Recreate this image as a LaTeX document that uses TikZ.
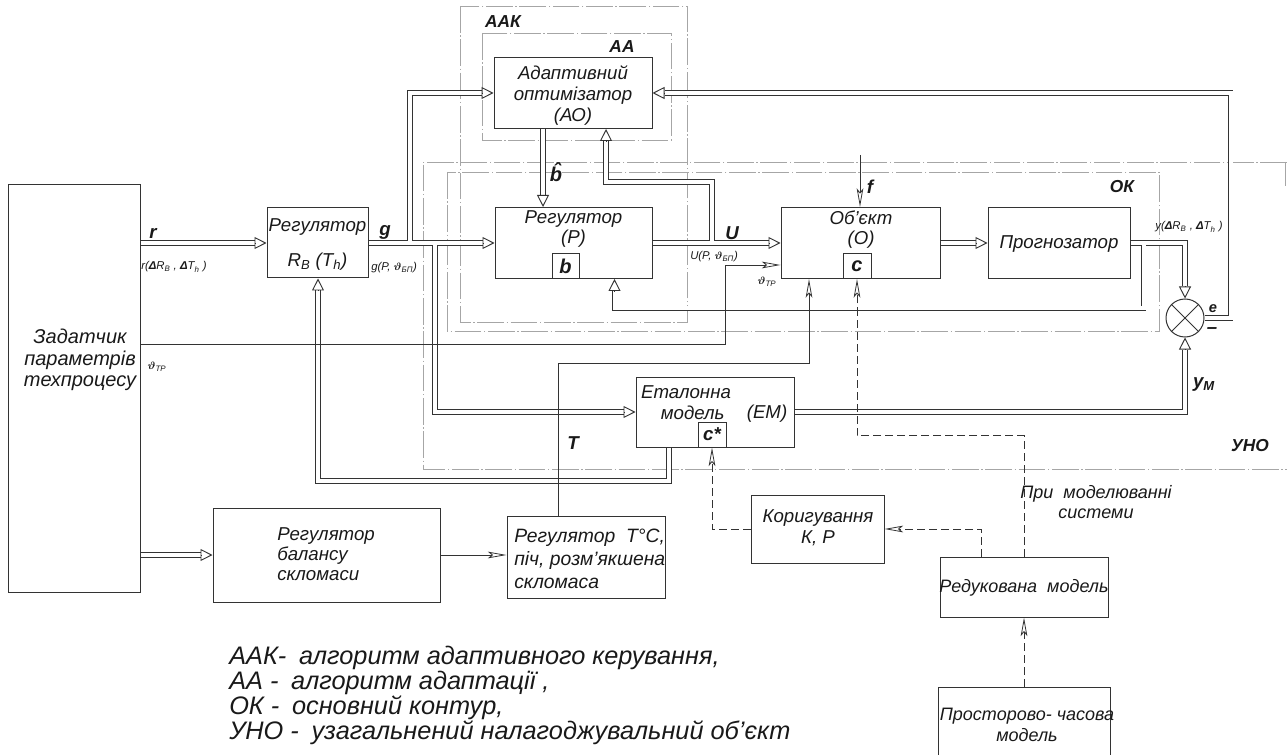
\documentclass[tikz,border=0pt]{standalone}
\usepackage{fontspec}
\setmainfont{Liberation Sans}
\usepackage{bm}
\usetikzlibrary{arrows.meta}
\begin{document}
\begin{tikzpicture}[x=0.75pt,y=-0.75pt,
  every node/.style={inner sep=0pt, text=black!90},
  bx/.style 2 args={draw=black!80, line width=0.75pt, minimum width=#1*0.75pt, minimum height=#2*0.75pt},
  tx/.style={font=\fontsize{14}{16}\selectfont\itshape, align=center},
  lbl/.style={font=\fontsize{14}{16}\selectfont\bfseries\itshape},
  ttl/.style={font=\fontsize{13}{15}\selectfont\bfseries\itshape},
  sml/.style={font=\fontsize{8.5}{10}\selectfont\itshape},
  leg/.style={font=\fontsize{19}{21}\selectfont\itshape, anchor=base west},
  frm/.style={draw=black!35, line width=0.6pt, dash pattern=on 20pt off 2pt on 1pt off 2pt},
  dbl/.style={draw=black!80, line width=0.7pt, double=white, double distance=3pt, line join=miter},
  dtip/.style={draw=black!80, line width=0.7pt, -{Triangle[open, length=9pt, width=9pt]}},
  thn/.style={draw=black!80, line width=0.6pt, -{Stealth[open, length=14pt, width=5pt, inset=3pt]}},
  dsh/.style={dash pattern=on 6pt off 3pt}
]
\useasboundingbox (0,0) rectangle (1287,755);

% frames
\draw[frm] (460,6) rectangle (687,322);
\draw[frm] (482,33) rectangle (671,140);
\draw[frm] (447,172) rectangle (1159,331);
\draw[frm] (1287,162) -- (423,162) -- (423,469) -- (1287,469);
\draw[frm] (1285,162) -- (1285,186);

% boxes
\node[bx={132}{407}] (zad) at (74,388.5) {};
\node[tx, font=\fontsize{15}{16}\selectfont\itshape] (zadt) at (80,360) {Задатчик\\параметрів\\техпроцесу};
\node[bx={101}{70}] (rb) at (317.5,243) {};
\node[tx] (rbt) at (317.5,244.5) {Регулятор\\[10pt]R\textsubscript{B} (T\textsubscript{h})};
\node[bx={158}{71}] (ao) at (573,93) {};
\node[tx, font=\fontsize{14}{15.75}\selectfont\itshape] (aot) at (573,96) {Адаптивний\\оптимізатор\\(АО)};
\node[bx={157}{71}] (p) at (573.5,243) {};
\node[tx, font=\fontsize{14}{15}\selectfont\itshape] (pt) at (573.5,229.5) {Регулятор\\(Р)};
\node[bx={27}{25}, font=\fontsize{15}{16}\selectfont\bfseries\itshape] (pb) at (565.5,266) {b};
\node[bx={159}{71}] (obj) at (860.5,243) {};
\node[tx, font=\fontsize{14}{15}\selectfont\itshape] (objt) at (861,230) {Об'єкт\\(О)};
\node[bx={28}{25}, font=\fontsize{15}{16}\selectfont\bfseries\itshape] (oc) at (857,266) {c};
\node[bx={142}{71}] (prog) at (1059,243) {};
\node[tx] (progt) at (1059,244) {Прогнозатор};
\node[circle, draw=black!80, line width=0.75pt, minimum size=38*0.75pt] (sum) at (1185,318) {};
\draw[black!80, line width=0.6pt] (sum.north west) -- (sum.south east) (sum.north east) -- (sum.south west);
\node[bx={158}{70}] (em) at (715,412) {};
\node[tx, font=\fontsize{14}{15.5}\selectfont\itshape] (emt) at (686,403) {Еталонна\\\hspace*{10pt}модель};
\node[tx] (emt2) at (767,414) {(ЕМ)};
\node[bx={28}{25}, font=\fontsize{14}{16}\selectfont\bfseries\itshape] (ec) at (712,434.5) {c*};
\node[bx={227}{94}] (bal) at (326.5,555) {};
\node[tx, align=left, anchor=west, font=\fontsize{14}{15}\selectfont\itshape] (balt) at (277,554) {Регулятор\\балансу\\скломаси};
\node[bx={158}{82}] (regt) at (586,557) {};
\node[tx, align=left, anchor=west, font=\fontsize{14.5}{17.5}\selectfont\itshape] (regtt) at (514,559) {Регулятор \ Т°С,\\піч, розм'якшена\\скломаса};
\node[bx={133}{68}] (kor) at (817.5,529) {};
\node[tx, font=\fontsize{14}{15.5}\selectfont\itshape] (kort) at (818,528) {Коригування\\К, Р};
\node[bx={168}{60}] (red) at (1024,587) {};
\node[tx, font=\fontsize{13.5}{15}\selectfont\itshape] (redt) at (1024,588) {Редукована \ модель};
\node[bx={172}{76}] (pro) at (1024,725) {};
\node[tx, font=\fontsize{13.5}{16}\selectfont\itshape] (prot) at (1027,725) {Просторово- часова\\модель};
\node[tx, font=\fontsize{13.5}{15.5}\selectfont\itshape] (prim) at (1096,502) {При \ моделюванні\\системи};

% double connectors
\draw[dbl] (zad.east |- rb.west) -- ([xshift=-9pt]rb.west);
\draw[dtip] ([xshift=-9pt]rb.west) -- (rb.west);
\draw[dbl] (zad.east |- bal.west) -- ([xshift=-9pt]bal.west);
\draw[dtip] ([xshift=-9pt]bal.west) -- (bal.west);

\coordinate (gj1) at (410,243);
\coordinate (gj2) at (435,243);
\draw[dbl] (rb.east) -- ([xshift=-9pt]p.west)
  (gj1) |- ([xshift=-9pt]ao.west)
  (gj2) |- ([xshift=-9pt]em.west);
\draw[dtip] ([xshift=-9pt]p.west) -- (p.west);
\draw[dtip] ([xshift=-9pt]ao.west) -- (ao.west);
\draw[dtip] ([xshift=-9pt]em.west) -- (em.west);

\coordinate (bA) at (ao.south -| 543,0);
\coordinate (bP) at (p.north -| 543,0);
\draw[dbl] (bA) -- ([yshift=9pt]bP);
\draw[dtip] ([yshift=9pt]bP) -- (bP);

\coordinate (uj) at (712,243);
\coordinate (aU) at (ao.south -| 606,0);
\draw[dbl] (p.east) -- ([xshift=-9pt]obj.west)
  (uj) |- (606,182) -- ([yshift=-9pt]aU);
\draw[dtip] ([xshift=-9pt]obj.west) -- (obj.west);
\draw[dtip] ([yshift=-9pt]aU) -- (aU);

\draw[dbl] (obj.east) -- ([xshift=-9pt]prog.west);
\draw[dtip] ([xshift=-9pt]prog.west) -- (prog.west);

\coordinate (pj) at (1143.5,243);
\coordinate (pF) at (p.south -| 614.5,0);
\draw[dbl] (prog.east) -| ([yshift=9pt]sum.north)
  (pj) |- (614.5,308.5) -- ([yshift=-9pt]pF);
\draw[dtip] ([yshift=9pt]sum.north) -- (sum.north);
\draw[dtip] ([yshift=-9pt]pF) -- (pF);

\draw[dbl] (sum.east) -- (1230.5,318) |- ([xshift=9pt]ao.east);
\draw[dtip] ([xshift=9pt]ao.east) -- (ao.east);

\draw[dbl] (em.east) -| ([yshift=-9pt]sum.south);
\draw[dtip] ([yshift=-9pt]sum.south) -- (sum.south);

\coordinate (eF) at (em.south -| 669,0);
\coordinate (rF) at (rb.south -| 318,0);
\draw[dbl] (eF) -- (669,481) -| ([yshift=-9pt]rF);
\draw[dtip] ([yshift=-9pt]rF) -- (rF);

% thin connectors
\draw[thn] (zad.east |- 0,344) -- (725,344) |- (obj.west |- 0,265);
\draw[thn] (regt.north -| 558,0) |- (809,363) -- (obj.south -| 809,0);
\draw[thn] (bal.east) -- (regt.west |- bal.east);
\coordinate (ftop) at (860,155);
\draw[thn] (ftop) -- (obj.north -| ftop);

% dashed connectors
\draw[thn, dsh] (kor.west) -| (ec.south);
\draw[thn, dsh] ([xshift=31.5pt]red.north west) |- (kor.east);
\draw[thn, dsh] (red.north) -- ++(0,-121) -| (oc.south);
\draw[thn, dsh] (pro.north) -- (red.south);

% labels
\node[ttl] (laak) at (503,22) {ААК};
\node[ttl] (laa) at (622,47) {АА};
\node[ttl] (lok) at (1122,187) {ОК};
\node[ttl] (luno) at (1250,446) {УНО};
\node[lbl] (lr) at (153,233) {r};
\node[lbl] (lg) at (385,232) {g};
\node[lbl] (lu) at (732,233) {U};
\node[lbl] (lf) at (870,187) {f};
\node[lbl] (lt) at (573,443) {T};
\node[lbl, font=\fontsize{11}{12}\selectfont\bfseries\itshape] (le) at (1213,309) {e};
\node[lbl] (lminus) at (1212,331) {–};
\node[lbl] (lym) at (1204,385) {y\textsubscript{M}};
\node[lbl, font=\fontsize{15}{16}\selectfont\bfseries\itshape] (lbh) at (556,172) {\^{b}};
\node[sml, anchor=west] (lr2) at (141,267) {r(\textbf{Δ}R\textsubscript{B} , \textbf{Δ}T\textsubscript{h} )};
\node[sml, anchor=west] (lg2) at (371,268) {g(P, $\bm\vartheta$\textsubscript{БП})};
\node[sml, anchor=west] (lu2) at (690,257) {U(P, $\bm\vartheta$\textsubscript{БП})};
\node[sml] (ly2) at (1189,227) {y(\textbf{Δ}R\textsubscript{B} , \textbf{Δ}T\textsubscript{h} )};
\node[sml] (lth1) at (157,367) {$\bm\vartheta$\textsubscript{ТР}};
\node[sml] (lth2) at (767,282) {$\bm\vartheta$\textsubscript{ТР}};

% legend
\node[leg] (leg1) at (229,664) {ААК-\hspace{0.5em}алгоритм адаптивного керування,};
\node[leg] (leg2) at (229,689) {АА\ -\hspace{0.5em}алгоритм адаптації ,};
\node[leg] (leg3) at (229,714) {ОК\ -\hspace{0.5em}основний контур,};
\node[leg] (leg4) at (229,739) {УНО -\hspace{0.5em}узагальнений налагоджувальний об'єкт};
\end{tikzpicture}
\end{document}
